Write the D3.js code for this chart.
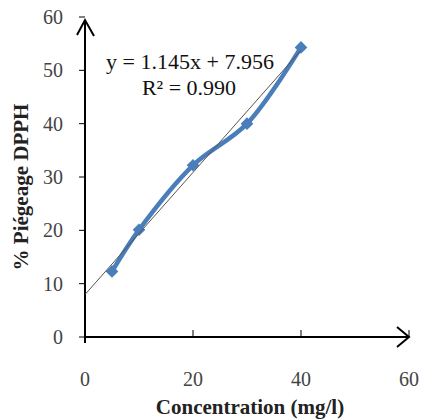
<!DOCTYPE html>
<html>
<head>
<meta charset="utf-8">
<script src="https://cdn.jsdelivr.net/npm/d3@7"></script>
<style>
body { margin: 0; background: #fff; }
text { font-family: "Liberation Serif", "Times New Roman", serif; }
</style>
</head>
<body>
<svg width="422" height="420"></svg>
<script>
// donnees
var concentration = [5, 10, 20, 30, 40];
var piegeage = [12.3, 20.1, 32.2, 40.0, 54.3];
var xTicks = [0, 20, 40, 60];
var yTicks = [0, 10, 20, 30, 40, 50, 60];
var pente = 1.145, ordonnee = 7.956;
var equation = "y = 1.145x + 7.956";
var r2 = "R² = 0.990";

var svg = d3.select("svg");

var x = d3.scaleLinear().domain([0, 60]).range([85, 409]);
var y = d3.scaleLinear().domain([0, 60]).range([337, 17]);

// ticks axe y
svg.append("g").selectAll("line").data(yTicks).enter().append("line")
  .attr("x1", 79).attr("x2", 85)
  .attr("y1", function (d) { return y(d); }).attr("y2", function (d) { return y(d); })
  .attr("stroke", "#000").attr("stroke-width", 1);
svg.append("g").selectAll("text").data(yTicks).enter().append("text")
  .attr("x", 63).attr("y", function (d) { return y(d) + 7; })
  .attr("text-anchor", "end").attr("font-size", 20).attr("fill", "#444")
  .text(function (d) { return d; });

// ticks axe x
svg.append("g").selectAll("line").data(xTicks).enter().append("line")
  .attr("x1", function (d) { return x(d); }).attr("x2", function (d) { return x(d); })
  .attr("y1", 330).attr("y2", 337)
  .attr("stroke", "#000").attr("stroke-width", 1);
svg.append("g").selectAll("text").data(xTicks).enter().append("text")
  .attr("x", function (d) { return x(d); }).attr("y", 386)
  .attr("text-anchor", "middle").attr("font-size", 20).attr("fill", "#444")
  .text(function (d) { return d; });

// axes avec fleches
svg.append("line").attr("x1", x(0)).attr("x2", x(60)).attr("y1", y(0)).attr("y2", y(0))
  .attr("stroke", "#000").attr("stroke-width", 2);
svg.append("line").attr("x1", x(0)).attr("x2", x(0)).attr("y1", y(0) + 6).attr("y2", y(60) + 3)
  .attr("stroke", "#000").attr("stroke-width", 2);
svg.append("path")
  .attr("d", "M" + (x(60) - 12) + "," + (y(0) - 10) + "L" + x(60) + "," + y(0) + "L" + (x(60) - 12) + "," + (y(0) + 10))
  .attr("fill", "none").attr("stroke", "#000").attr("stroke-width", 2);
svg.append("path")
  .attr("d", "M" + (x(0) - 8) + "," + (y(60) + 18) + "L" + x(0) + "," + (y(60) + 3) + "L" + (x(0) + 9) + "," + (y(60) + 19))
  .attr("fill", "none").attr("stroke", "#000").attr("stroke-width", 2);

// courbe lissee
var pts = concentration.map(function (c, i) { return [c, piegeage[i]]; });
var line = d3.line()
  .x(function (d) { return x(d[0]); })
  .y(function (d) { return y(d[1]); })
  .curve(d3.curveCatmullRom);
svg.append("path").datum(pts).attr("d", line)
  .attr("fill", "none").attr("stroke", "#4A7EBB").attr("stroke-width", 4.5)
  .attr("stroke-linejoin", "round");

// marqueurs losange (carre tourne)
svg.append("g").selectAll("path").data(pts).enter().append("path")
  .attr("transform", function (d) { return "translate(" + x(d[0]) + "," + y(d[1]) + ") rotate(45)"; })
  .attr("d", d3.symbol().type(d3.symbolSquare).size(80))
  .attr("fill", "#4A7EBB");

// droite de regression
svg.append("line")
  .attr("x1", x(0)).attr("y1", y(ordonnee))
  .attr("x2", x(40)).attr("y2", y(pente * 40 + ordonnee))
  .attr("stroke", "#555").attr("stroke-width", 1);

// equation
svg.append("text").attr("x", 190).attr("y", 69).attr("text-anchor", "middle")
  .attr("font-size", 22).attr("fill", "#111").text(equation);
svg.append("text").attr("x", 189).attr("y", 95).attr("text-anchor", "middle")
  .attr("font-size", 22).attr("fill", "#111").text(r2);

// titres des axes
svg.append("text").attr("x", 250).attr("y", 414).attr("text-anchor", "middle")
  .attr("font-size", 21).attr("font-weight", "bold").attr("fill", "#222")
  .text("Concentration (mg/l)");
svg.append("text").attr("transform", "translate(28,187) rotate(-90)")
  .attr("text-anchor", "middle")
  .attr("font-size", 21).attr("font-weight", "bold").attr("fill", "#222")
  .text("% Piégeage DPPH");
</script>
</body>
</html>
